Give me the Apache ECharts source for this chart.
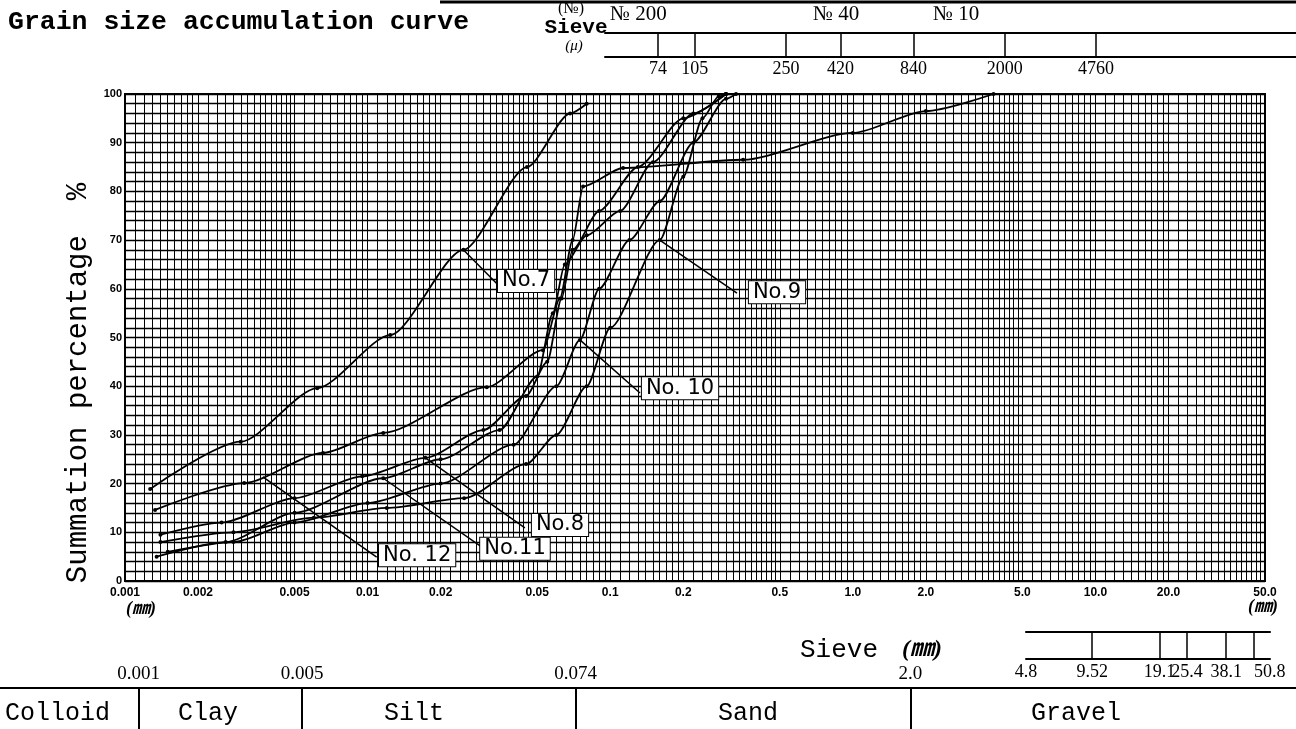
<!DOCTYPE html>
<html>
<head>
<meta charset="utf-8">
<script src="https://cdn.jsdelivr.net/npm/echarts@6/dist/echarts.min.js"></script>
<style>html,body{margin:0;padding:0;background:#fff}#main{width:1296px;height:729px}</style>
</head>
<body>
<div id="main"></div>
<script>
// grain size in mm on a log axis, summation percentage on y
var sizeTicks = [0.001, 0.002, 0.005, 0.01, 0.02, 0.05, 0.1, 0.2, 0.5, 1, 2, 5, 10, 20, 50];
var sizeTickLabels = ['0.001', '0.002', '0.005', '0.01', '0.02', '0.05', '0.1', '0.2', '0.5', '1.0', '2.0', '5.0', '10.0', '20.0', '50.0'];
var sieveMicron = [74, 105, 250, 420, 840, 2000, 4760];
var sieveMm = [4.8, 9.52, 19.1, 25.4, 38.1, 50.8];
var sieveMmLabels = ['4.8', '9.52', '19.1', '25.4', '38.1', '50.8'];
var classBounds = [0.001, 0.005, 0.074, 2.0];
var classBoundLabels = ['0.001', '0.005', '0.074', '2.0'];

var no7 = [[0.00127, 18.9], [0.003, 28.6], [0.0062, 39.6], [0.0124, 50.5], [0.0248, 68], [0.0454, 85], [0.0683, 96], [0.08, 98]];
var no8 = [[0.0014, 9.5], [0.0025, 12], [0.005, 17], [0.0095, 21.5], [0.0173, 25.3], [0.03, 31], [0.045, 38], [0.055, 45], [0.063, 58], [0.07, 68], [0.09, 76], [0.13, 85], [0.2, 95], [0.3, 100]];
var no9 = [[0.0014, 8], [0.0028, 10], [0.006, 13], [0.012, 15], [0.025, 17], [0.045, 24], [0.06, 30], [0.08, 40], [0.1, 52], [0.16, 70], [0.2, 83], [0.24, 95], [0.28, 99.5], [0.3, 100]];
var no10 = [[0.0015, 6], [0.0028, 8], [0.005, 12], [0.01, 16], [0.02, 20], [0.04, 28], [0.06, 40], [0.075, 49.5], [0.09, 60], [0.12, 70], [0.16, 78], [0.22, 90], [0.3, 99], [0.33, 100]];
var no11 = [[0.00135, 5], [0.0026, 8], [0.005, 14], [0.0116, 21.1], [0.02, 25], [0.035, 31], [0.05, 42], [0.058, 55], [0.065, 65], [0.08, 71], [0.11, 76], [0.15, 86], [0.22, 96], [0.3, 100]];
var no12 = [[0.00133, 14.6], [0.0031, 20.1], [0.00655, 26.3], [0.0116, 30.4], [0.031, 39.8], [0.0528, 47.4], [0.062, 58], [0.07, 70], [0.0773, 81], [0.113, 84.8], [0.353, 86.5], [1.0, 92], [2.0, 96.5], [3.8, 100]];

// curve name tags: leader from curve point to tag, tag centre
var tags = [
  {name: 'No.7', data: no7, from: [0.0248, 68], to: [0.0361, 59.8], at: [0.045, 61.6]},
  {name: 'No.8', data: no8, from: [0.0173, 25.3], to: [0.0445, 10.9], at: [0.0621, 11.5]},
  {name: 'No.9', data: no9, from: [0.16, 70], to: [0.333, 59.1], at: [0.487, 59.3]},
  {name: 'No. 10', data: no10, from: [0.075, 49.5], to: [0.1327, 38.6], at: [0.194, 39.6]},
  {name: 'No.11', data: no11, from: [0.0116, 21.1], to: [0.0299, 6.8], at: [0.0405, 6.6]},
  {name: 'No. 12', data: no12, from: [0.0037, 21.4], to: [0.0109, 4.9], at: [0.016, 5.3]}
];

function pick(vals, labels, v) {
  for (var i = 0; i < vals.length; i++) {
    if (Math.abs(Math.log(v / vals[i])) < 1e-6) return labels[i];
  }
  return '';
}

// log paper rulings
var rulingX = [];
[0.001, 0.01, 0.1, 1, 10].forEach(function (d) {
  var m;
  for (m = 10; m < 20; m += 1) rulingX.push(d * m / 10);
  for (m = 20; m < 50; m += 2) rulingX.push(d * m / 10);
  for (m = 50; m < 100; m += 5) rulingX.push(d * m / 10);
});
rulingX = rulingX.filter(function (v) { return v > 0.0010001 && v < 49.999; });

var lastSieve = sieveMm.length - 1;

var dom = document.getElementById('main');
var myChart = echarts.init(dom);

var black = '#000';
var serif = '"Liberation Serif", "Noto Sans CJK JP", serif';
var mono = '"Liberation Mono", "DejaVu Sans Mono", monospace';

var series = [{
  type: 'line',
  xAxisIndex: 0, yAxisIndex: 0,
  data: [[0.001, 0]],
  symbol: 'none',
  lineStyle: {opacity: 0},
  silent: true,
  z: 1,
  markLine: {
    silent: true,
    precision: 8,
    symbol: ['none', 'none'],
    label: {show: false},
    lineStyle: {color: '#000', width: 1, type: 'solid'},
    data: rulingX.map(function (v) { return [{coord: [v, 0]}, {coord: [v, 100]}]; })
  }
}];

tags.forEach(function (t) {
  series.push({
    type: 'line',
    name: t.name,
    xAxisIndex: 0, yAxisIndex: 0,
    data: t.data,
    smooth: 0.25,
    smoothMonotone: 'x',
    symbol: 'circle',
    symbolSize: 4,
    itemStyle: {color: black},
    lineStyle: {color: black, width: 1.8},
    z: 5,
    markLine: {
      silent: true,
      symbol: ['none', 'none'],
      label: {show: false},
      lineStyle: {color: black, width: 1.5, type: 'solid'},
      data: [[{coord: t.from}, {coord: t.to}]]
    },
    markPoint: {
      silent: true,
      symbol: 'rect',
      symbolSize: [1, 1],
      itemStyle: {color: 'rgba(0,0,0,0)'},
      label: {
        show: true,
        position: 'inside',
        formatter: t.name,
        color: black,
        fontFamily: '"DejaVu Sans", sans-serif',
        fontSize: 21,
        backgroundColor: '#fff',
        borderColor: black,
        borderWidth: 1,
        padding: [1, 4, 0, 4]
      },
      data: [{coord: t.at}]
    }
  });
});

option = {
  animation: false,
  backgroundColor: '#fff',
  grid: [
    {left: 125, right: 31, top: 94, bottom: 148, show: true, borderColor: black, borderWidth: 2, backgroundColor: '#fff'},
    {left: 605, right: 0, top: 33, height: 24},
    {left: 1026, right: 26, top: 632, height: 27},
    {left: 0, right: 0, top: 600, bottom: 41}
  ],
  xAxis: [
    {
      gridIndex: 0, type: 'log', logBase: 10, min: 0.001, max: 50,
      axisLine: {lineStyle: {color: black, width: 2}},
      axisTick: {show: false},
      splitLine: {show: false},
      axisLabel: {
        customValues: sizeTicks,
        formatter: function (v) { return pick(sizeTicks, sizeTickLabels, v); },
        showMinLabel: true, showMaxLabel: true,
        color: black, fontSize: 12, fontWeight: 'bold', margin: 6,
        fontFamily: '"Liberation Sans", sans-serif'
      }
    },
    {
      gridIndex: 1, type: 'log', position: 'bottom', min: 44.75, max: 31820,
      axisLine: {lineStyle: {color: black, width: 2}},
      axisTick: {customValues: sieveMicron, inside: true, length: 24, lineStyle: {color: black, width: 1.5}},
      splitLine: {show: false},
      axisLabel: {
        customValues: sieveMicron,
        formatter: function (v) { return String(Math.round(v)); },
        showMinLabel: true, showMaxLabel: true,
        color: black, fontSize: 18, fontFamily: serif, margin: 3
      }
    },
    {
      gridIndex: 1, type: 'log', position: 'top', min: 44.75, max: 31820,
      axisLine: {lineStyle: {color: black, width: 2}},
      axisTick: {show: false}, axisLabel: {show: false}, splitLine: {show: false}
    },
    {
      // mm sieve strip: openings up to 38.1
      gridIndex: 2, type: 'log', position: 'bottom', offset: 0, min: 4.8, max: 60,
      axisLine: {lineStyle: {color: black, width: 2}},
      axisTick: {customValues: sieveMm.slice(1, lastSieve), inside: true, length: 27, lineStyle: {color: black, width: 1.5}},
      splitLine: {show: false},
      axisLabel: {
        customValues: sieveMm.slice(0, lastSieve),
        formatter: function (v) { return pick(sieveMm, sieveMmLabels, v); },
        showMinLabel: true, showMaxLabel: true,
        color: black, fontSize: 18, fontFamily: serif, margin: 4
      }
    },
    {
      // mm sieve strip: last opening, label set to the right of its tick
      gridIndex: 2, type: 'log', position: 'bottom', offset: 0, min: 4.8, max: 60,
      axisLine: {show: false},
      axisTick: {customValues: sieveMm.slice(lastSieve), inside: true, length: 27, lineStyle: {color: black, width: 1.5}},
      splitLine: {show: false},
      axisLabel: {
        customValues: sieveMm.slice(lastSieve),
        formatter: function (v) { return pick(sieveMm, sieveMmLabels, v); },
        align: 'left', showMinLabel: true, showMaxLabel: true,
        color: black, fontSize: 18, fontFamily: serif, margin: 4
      }
    },
    {
      gridIndex: 2, type: 'log', position: 'top', min: 4.8, max: 60,
      axisLine: {lineStyle: {color: black, width: 2}},
      axisTick: {show: false}, axisLabel: {show: false}, splitLine: {show: false}
    },
    {
      gridIndex: 3, type: 'log', position: 'bottom', min: 0.000255, max: 89.4,
      axisLine: {lineStyle: {color: black, width: 2}},
      axisTick: {customValues: classBounds, inside: false, length: 41, lineStyle: {color: black, width: 2}},
      splitLine: {show: false},
      axisLabel: {
        customValues: classBounds, inside: true,
        formatter: function (v) { return pick(classBounds, classBoundLabels, v); },
        showMinLabel: true, showMaxLabel: true,
        color: black, fontSize: 19, fontFamily: serif, margin: 4
      }
    }
  ],
  yAxis: [
    {
      gridIndex: 0, type: 'value', min: 0, max: 100, interval: 2,
      axisLine: {show: true, lineStyle: {color: black, width: 2}},
      axisTick: {show: false},
      splitLine: {show: true, lineStyle: {color: '#000', width: 1.3}},
      axisLabel: {
        formatter: function (v) { return v % 10 === 0 ? String(v) : ''; },
        color: black, fontSize: 11, fontWeight: 'bold', margin: 3,
        fontFamily: '"Liberation Sans", sans-serif'
      }
    },
    {gridIndex: 1, type: 'value', show: false},
    {gridIndex: 2, type: 'value', show: false},
    {gridIndex: 3, type: 'value', show: false}
  ],
  graphic: [
    {type: 'line', shape: {x1: 440, y1: 2, x2: 1296, y2: 2}, style: {stroke: black, lineWidth: 3}},
    {type: 'text', x: 8, y: 22, style: {text: 'Grain size accumulation curve', font: 'bold 26.5px ' + mono, fill: black, textVerticalAlign: 'middle'}},
    {type: 'text', x: 571, y: 9, style: {text: '(№)', font: '16px ' + serif, fill: black, textAlign: 'center', textVerticalAlign: 'middle'}},
    {type: 'text', x: 576, y: 28, style: {text: 'Sieve', font: 'bold 21px ' + mono, fill: black, textAlign: 'center', textVerticalAlign: 'middle'}},
    {type: 'text', x: 574, y: 46, style: {text: '(μ)', font: 'italic 15px ' + serif, fill: black, textAlign: 'center', textVerticalAlign: 'middle'}},
    {type: 'text', x: 610, y: 14, style: {text: '№ 200', font: '21px ' + serif, fill: black, textVerticalAlign: 'middle'}},
    {type: 'text', x: 813, y: 14, style: {text: '№ 40', font: '21px ' + serif, fill: black, textVerticalAlign: 'middle'}},
    {type: 'text', x: 933, y: 14, style: {text: '№ 10', font: '21px ' + serif, fill: black, textVerticalAlign: 'middle'}},
    {type: 'text', x: 78, y: 383, rotation: Math.PI / 2, style: {text: 'Summation percentage  %', font: '29px ' + mono, fill: black, textAlign: 'center', textVerticalAlign: 'middle'}},
    {type: 'text', x: 141, y: 609, style: {text: '(㎜)', font: 'italic bold 18px ' + serif, fill: black, textAlign: 'center', textVerticalAlign: 'middle'}},
    {type: 'text', x: 1263, y: 607, style: {text: '(㎜)', font: 'italic bold 18px ' + serif, fill: black, textAlign: 'center', textVerticalAlign: 'middle'}},
    {type: 'text', x: 800, y: 650, style: {text: 'Sieve', font: '26px ' + mono, fill: black, textVerticalAlign: 'middle'}},
    {type: 'text', x: 922, y: 650, style: {text: '(㎜)', font: 'italic bold 24px ' + serif, fill: black, textAlign: 'center', textVerticalAlign: 'middle'}},
    {type: 'text', x: 5, y: 713, style: {text: 'Colloid', font: '25px ' + mono, fill: black, textVerticalAlign: 'middle'}},
    {type: 'text', x: 208, y: 713, style: {text: 'Clay', font: '25px ' + mono, fill: black, textAlign: 'center', textVerticalAlign: 'middle'}},
    {type: 'text', x: 414, y: 713, style: {text: 'Silt', font: '25px ' + mono, fill: black, textAlign: 'center', textVerticalAlign: 'middle'}},
    {type: 'text', x: 748, y: 713, style: {text: 'Sand', font: '25px ' + mono, fill: black, textAlign: 'center', textVerticalAlign: 'middle'}},
    {type: 'text', x: 1076, y: 713, style: {text: 'Gravel', font: '25px ' + mono, fill: black, textAlign: 'center', textVerticalAlign: 'middle'}}
  ],
  series: series
};

if (option && typeof option === 'object') {
  myChart.setOption(option, true);
}
</script>
</body>
</html>
